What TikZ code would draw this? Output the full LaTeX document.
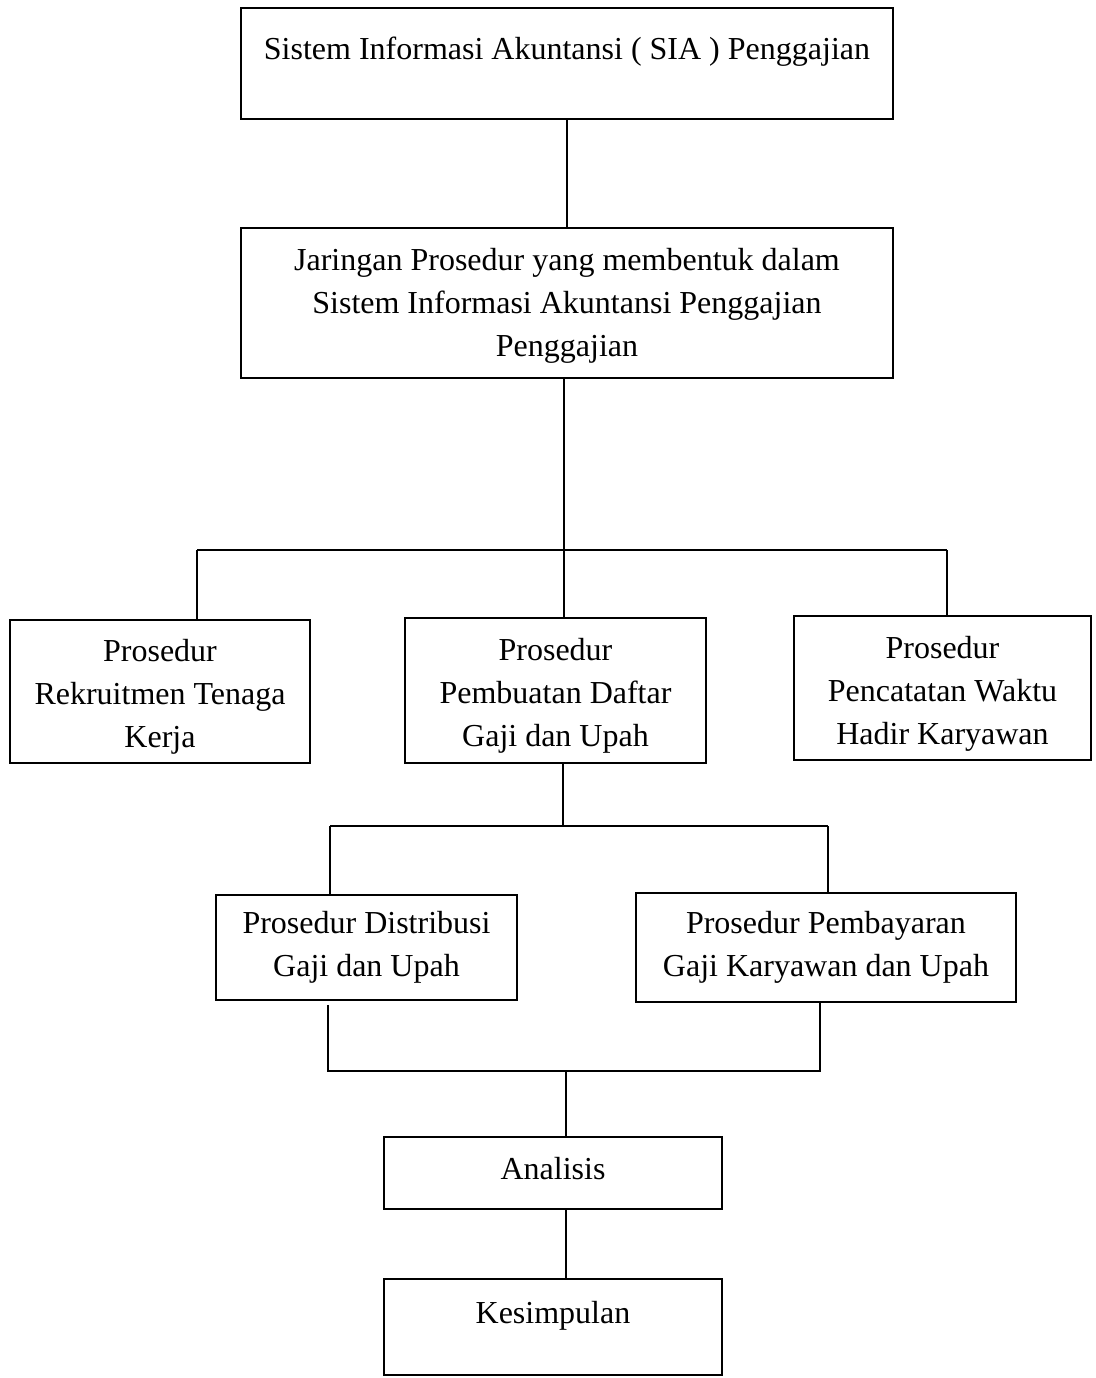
\documentclass[tikz,border=0pt]{standalone}
\usepackage{fontspec}
\setmainfont{Liberation Serif}
\usetikzlibrary{positioning, calc}
\newcommand{\topgap}[1]{\rule{0pt}{#1}}

\begin{document}
\begin{tikzpicture}[x=1pt, y=-1pt,
        box/.style={rectangle, draw=black, line width=1.6pt, inner sep=0pt, align=center, font=\fontsize{32}{43}\selectfont},
        line/.style={draw=black, line width=1.2pt}
      ]
      \useasboundingbox (0,0) rectangle (1095,1378);
      % main boxes
      \node[box, minimum width=652pt, minimum height=111pt, text height=24pt, text depth=31pt] (sia) at (567,63.5) {Sistem Informasi Akuntansi ( SIA ) Penggajian};
      \node[box, minimum width=652pt, minimum height=150pt] (jar) at (567,303) {\topgap{27pt}Jaringan Prosedur yang membentuk dalam\\Sistem Informasi Akuntansi Penggajian\\Penggajian};
      \node[box, minimum width=300pt, minimum height=143pt] (rek) at (160,691.5) {\topgap{33pt}Prosedur\\Rekruitmen Tenaga\\Kerja};
      \node[box, minimum width=301pt, minimum height=145pt] (pem) at (555.5,690.5) {\topgap{33pt}Prosedur\\Pembuatan Daftar\\Gaji dan Upah};
      \node[box, minimum width=297pt, minimum height=144pt] (pen) at (942.5,688) {\topgap{34pt}Prosedur\\Pencatatan Waktu\\Hadir Karyawan};
      \node[box, minimum width=301pt, minimum height=105pt] (dis) at (366.5,947.5) {Prosedur Distribusi\\Gaji dan Upah};
      \node[box, minimum width=380pt, minimum height=109pt] (bay) at (826,947.5) {Prosedur Pembayaran\\Gaji Karyawan dan Upah};
      \node[box, minimum width=338pt, minimum height=72pt, text height=22pt, text depth=9pt] (ana) at (553,1173) {Analisis};
      \node[box, minimum width=338pt, minimum height=96pt, text height=22pt, text depth=30pt] (kes) at (553,1327) {Kesimpulan};

      % connectors
      \coordinate (barL) at (197,550);
      \coordinate (barM) at (564,550);
      \coordinate (barR) at (947,550);
      \coordinate (subL) at (330,826);
      \coordinate (subM) at (563,826);
      \coordinate (subR) at (828,826);
      \coordinate (joinL) at (328,1071);
      \coordinate (joinM) at (566,1071);
      \coordinate (joinR) at (820,1071);

      \draw[line] (sia.south) -- (jar.north);
      \draw[line] (jar.south -| barM) -- (barM) -- (barM |- pem.north);
      \draw[line] (barL) -- (barR);
      \draw[line] (barL) -- (barL |- rek.north);
      \draw[line] (barR) -- (barR |- pen.north);

      \draw[line] (pem.south -| subM) -- (subM);
      \draw[line] (subL) -- (subR);
      \draw[line] (subL) -- (subL |- dis.north);
      \draw[line] (subR) -- (subR |- bay.north);

      \draw[line] ($(joinL |- dis.south)+(0,4)$) -- (joinL) -- (joinR) -- (joinR |- bay.south);
      \draw[line] (joinM) -- (joinM |- ana.north);
      \draw[line] (ana.south -| joinM) -- (kes.north -| joinM);
    \end{tikzpicture}
\end{document}
